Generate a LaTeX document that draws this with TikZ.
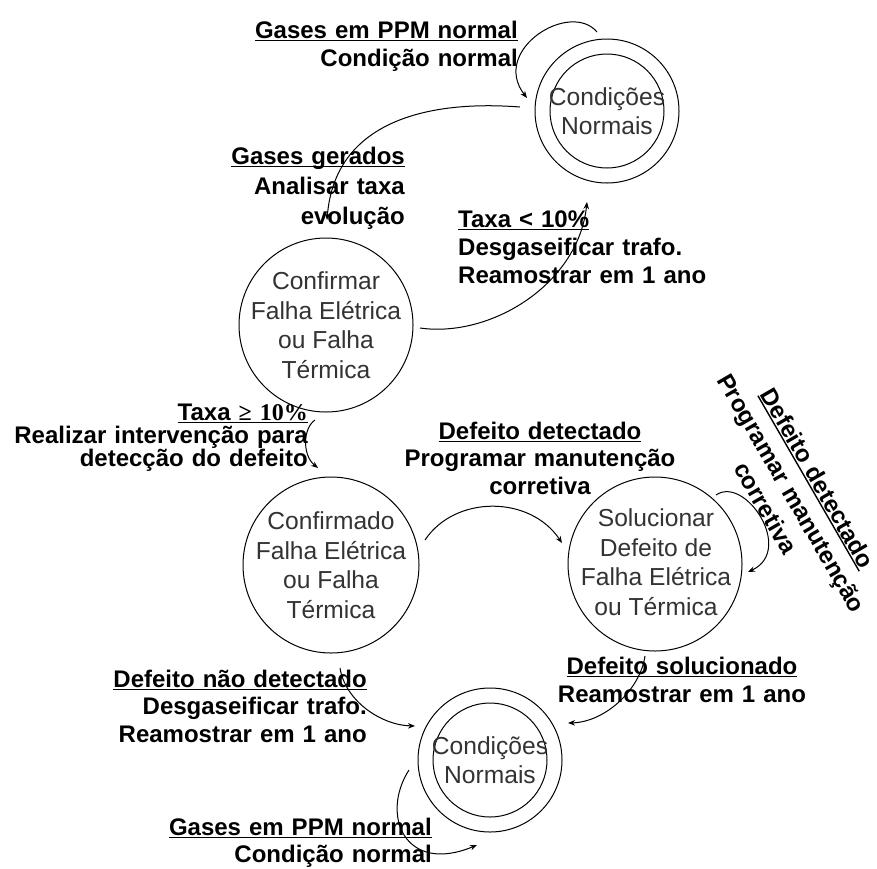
\documentclass[tikz,border=0pt]{standalone}
\usepackage{fontspec}
\setmainfont{Liberation Sans}
\newfontfamily\timesbold{Liberation Serif}
\usetikzlibrary{arrows.meta}
% underlined text with a heavier rule
\newsavebox\ulbox
\newcommand\ulin[1]{\sbox\ulbox{#1}\rlap{\rule[-3pt]{\wd\ulbox}{1.4pt}}\usebox\ulbox}
\begin{document}
\begin{tikzpicture}[x=1pt,y=-1pt,
  ring/.style={draw, circle, line width=1pt, inner sep=0pt, outer sep=0pt},
  statetext/.style={align=center, inner sep=0pt, text=black!80,
    font=\fontsize{24.6}{29.5}\selectfont},
  lbl/.style={inner sep=0pt, text width=320pt,
    font=\bfseries\fontsize{24}{28}\selectfont},
  flow/.style={line width=1pt, -{Stealth[length=7pt,width=5.5pt]}},
]
\fill[white] (0,0) rectangle (877,868);
\useasboundingbox (0,0) rectangle (877,868);

% states
\node[ring, minimum size=144pt] (cnAo) at (607,111) {};
\node[ring, minimum size=114pt] (cnAi) at (607,111) {};
\node[statetext] (cnAt) at (607,111) {Condições\\Normais};

\node[ring, minimum size=174pt] (conf) at (326,325) {};
\node[statetext] (confT) at (326,325) {Confirmar\\Falha Elétrica\\ou Falha\\Térmica};

\node[ring, minimum size=176pt] (cfd) at (331,565) {};
\node[statetext] (cfdT) at (331,565) {Confirmado\\Falha Elétrica\\ou Falha\\Térmica};

\node[ring, minimum size=174pt] (sol) at (655,564) {};
\node[statetext] (solT) at (656,562) {Solucionar\\Defeito de\\Falha Elétrica\\ou Térmica};

\node[ring, minimum size=144pt] (cnBo) at (490,760) {};
\node[ring, minimum size=114pt] (cnBi) at (490,760) {};
\node[statetext] (cnBt) at (490,760) {Condições\\Normais};

% transition labels
\node[lbl, align=right, anchor=base east] (l1) at (518,38)
  {\ulin{Gases em PPM normal}\\Condição normal};
\node[lbl, align=right, anchor=base east, font=\bfseries\fontsize{24}{30}\selectfont] (l2) at (405,164)
  {\ulin{Gases gerados}\\Analisar taxa\\evolução};
\node[lbl, align=left, anchor=base west] (l3) at (458,227)
  {\ulin{Taxa < 10\%}\\Desgaseificar trafo.\\Reamostrar em 1 ano};
\node[lbl, align=right, anchor=base east, font=\bfseries\fontsize{24}{23}\selectfont] (l4) at (308,420)
  {\ulin{Taxa {\timesbold ≥ 10\%}}\\Realizar intervenção para\\detecção do defeito};
\node[lbl, align=center, anchor=base, font=\bfseries\fontsize{24}{27.5}\selectfont] (l5) at (540,439)
  {\ulin{Defeito detectado}\\Programar manutenção\\corretiva};
\node[lbl, align=center, rotate=-60, font=\bfseries\fontsize{24}{30}\selectfont] (l6) at (792,493)
  {\ulin{Defeito detectado}\\Programar manutenção\\corretiva};
\node[lbl, align=right, anchor=base east, font=\bfseries\fontsize{24}{27.5}\selectfont] (l7) at (367,687)
  {\ulin{Defeito não detectado}\\Desgaseificar trafo.\\Reamostrar em 1 ano};
\node[lbl, align=center, anchor=base] (l8) at (682,674)
  {\ulin{Defeito solucionado}\\Reamostrar em 1 ano};
\node[lbl, align=right, anchor=base east, font=\bfseries\fontsize{24}{27}\selectfont] (l9) at (432,835)
  {\ulin{Gases em PPM normal}\\Condição normal};

% transitions
\draw[flow] ([shift={(-10,-79)}]cnAo.center) .. controls (570,0) and (490,50) .. ([shift={(-80,-13)}]cnAo.center);
\draw[flow] ([shift={(-87,-4)}]cnAo.center) .. controls (430,100) and (335,120) .. ([shift={(1,-105)}]conf.center);
\draw[flow] ([shift={(94,3)}]conf.center) .. controls (490,338) and (578,285) .. ([shift={(-20,91)}]cnAo.center);
\draw[flow] ([shift={(-11,95)}]conf.center) .. controls (303,428) and (302,455) .. ([shift={(-13,-97)}]cfd.center);
\draw[flow] ([shift={(94,-25)}]cfd.center) .. controls (455,495) and (530,495) .. ([shift={(-93,-21)}]sol.center);
\draw[flow] ([shift={(61,-69)}]sol.center) .. controls (745,475) and (795,550) .. ([shift={(93,8)}]sol.center);
\draw[flow] ([shift={(9,103)}]cfd.center) .. controls (345,700) and (380,725) .. ([shift={(-75,-34)}]cnBo.center);
\draw[flow] ([shift={(-10,92)}]sol.center) .. controls (640,690) and (605,722) .. ([shift={(78,-37)}]cnBo.center);
\draw[flow] ([shift={(-81,10)}]cnBo.center) .. controls (380,815) and (405,875) .. ([shift={(-13,85)}]cnBo.center);
\end{tikzpicture}
\end{document}
